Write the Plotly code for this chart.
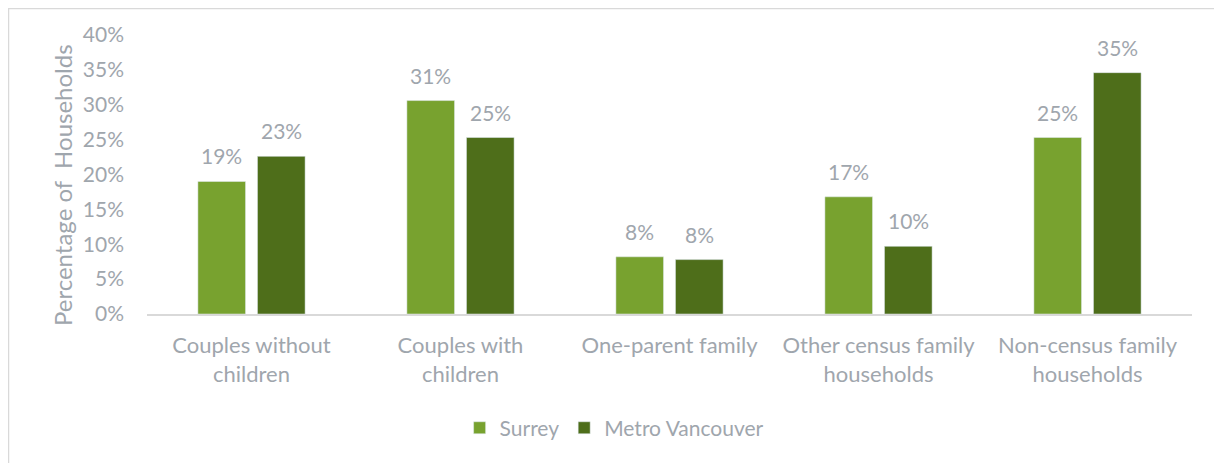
import plotly.graph_objects as go

categories = ["Couples without<br>children", "Couples with<br>children", "One-parent family",
              "Other census family<br>households", "Non-census family<br>households"]
surrey = [0.190, 0.306, 0.082, 0.168, 0.253]
metro = [0.226, 0.253, 0.078, 0.097, 0.346]
surrey_labels = ["19%", "31%", "8%", "17%", "25%"]
metro_labels = ["23%", "25%", "8%", "10%", "35%"]
tick_vals = [0, 0.05, 0.10, 0.15, 0.20, 0.25, 0.30, 0.35, 0.40]

GRAY = "#9FA6AD"
FONT = "Lato"
BARGAP = 0.43

fig = go.Figure()
fig.add_trace(go.Bar(name="Surrey", x=list(range(len(categories))), y=surrey,
                     marker_color="#78A22F"))
fig.add_trace(go.Bar(name="Metro Vancouver", x=list(range(len(categories))), y=metro,
                     marker_color="#4E6E1A"))

half = (1 - BARGAP) / 4
annotations = []
for i in range(len(categories)):
    for off, val, lab in ((-half, surrey[i], surrey_labels[i]), (half, metro[i], metro_labels[i])):
        annotations.append(dict(x=i + off, y=val, xref="x", yref="y", text=lab,
                                showarrow=False, yanchor="bottom", yshift=11,
                                font=dict(size=21, color=GRAY, family=FONT)))

# y-axis title as rotated annotation
annotations.append(dict(text="Percentage of  Households", textangle=-90, showarrow=False,
                        xref="paper", yref="paper", x=(62 - 147) / 1045, y=(314 - 185) / 279,
                        xanchor="center", yanchor="middle",
                        font=dict(size=24, color=GRAY, family=FONT)))

fig.update_layout(
    width=1214, height=455,
    margin=dict(l=139, r=30, t=27, b=149),
    paper_bgcolor="white", plot_bgcolor="white",
    barmode="group", bargap=BARGAP, bargroupgap=0.2,
    font=dict(family=FONT, color=GRAY, size=21),
    showlegend=True,
    legend=dict(orientation="h", x=0.447, xanchor="center", y=-0.409, yanchor="middle",
                font=dict(size=21, color=GRAY, family=FONT), traceorder="normal",
                itemwidth=30),
    xaxis=dict(showline=True, linecolor="#D9D9D9", linewidth=1.5, ticks="",
               tickmode="array", tickvals=list(range(len(categories))), ticktext=categories,
               range=[-0.5, len(categories) - 0.5], ticklabelstandoff=11,
               tickfont=dict(size=22, color=GRAY, family=FONT), showgrid=False),
    yaxis=dict(range=[0, 0.40], tickvals=tick_vals, tickformat=".0%", showgrid=False,
               zeroline=False, showline=False, ticklabelstandoff=22,
               tickfont=dict(size=21, color=GRAY, family=FONT)),
    annotations=annotations,
    shapes=[dict(type="rect", xref="paper", yref="paper",
                 x0=(8.5 - 147) / 1045, x1=(1216 - 147) / 1045,
                 y0=-0.6, y1=(314 - 8.5) / 279,
                 line=dict(color="#D9D9D9", width=1.5), fillcolor="rgba(0,0,0,0)",
                 layer="below")],
)

fig.write_html("out.html")
